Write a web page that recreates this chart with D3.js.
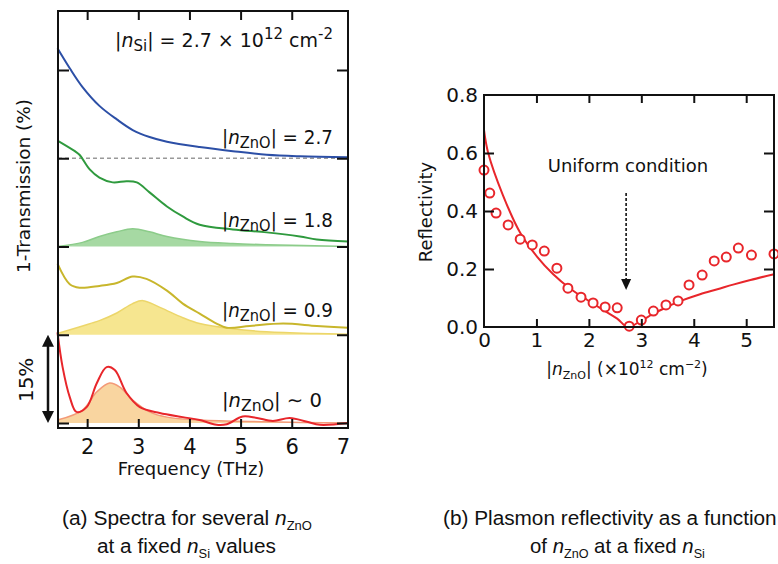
<!DOCTYPE html>
<html>
<head>
<meta charset="utf-8">
<script src="https://cdn.jsdelivr.net/npm/d3@7"></script>
<style>
  body { margin: 0; background: #fff; }
  svg { display: block; background: #fff; }
  text { font-family: "DejaVu Sans", sans-serif; fill: #111; }
  text.cap { font-family: "Liberation Sans", Arial, sans-serif; }
</style>
</head>
<body>
<svg width="778" height="564"></svg>
<script>
// (a) spectra, frequency in THz, 1-T in % above each trace's own baseline
const blueFreq = [1.42, 1.66, 1.91, 2.24, 2.58, 2.89, 3.22, 3.56, 4.20, 4.85, 5.51, 6.16, 7.10];
const blueVals = [18.7, 15.3, 12.1, 8.9, 6.6, 4.8, 3.6, 2.8, 1.9, 1.2, 0.6, 0.34, 0.17];

const greenFreq = [1.42, 1.76, 1.85, 2.05, 2.24, 2.50, 2.77, 2.97, 3.22, 3.56, 3.87, 4.20, 4.85, 5.51, 6.16, 6.49, 7.10];
const greenVals = [18.0, 16.2, 15.6, 13.1, 11.7, 10.9, 11.1, 10.9, 9.2, 6.8, 5.1, 3.7, 2.9, 2.4, 1.7, 1.2, 0.85];
const greenFillFreq = [1.42, 1.91, 2.24, 2.58, 2.89, 3.22, 3.56, 4.20, 4.85, 5.51, 7.10];
const greenFillVals = [0, 0.7, 1.7, 2.5, 3.0, 2.5, 1.7, 0.85, 0.5, 0.3, 0];

const yellowFreq = [1.42, 1.66, 1.85, 2.24, 2.58, 2.89, 3.16, 3.56, 3.87, 4.20, 4.53, 4.73, 5.18, 5.83, 6.49, 7.10];
const yellowVals = [12.1, 8.6, 8.0, 8.3, 8.8, 9.9, 9.5, 7.5, 5.3, 3.6, 1.9, 1.2, 1.5, 1.9, 1.5, 1.2];
const yellowFillFreq = [1.42, 1.91, 2.24, 2.58, 2.89, 3.09, 3.36, 3.56, 3.87, 4.20, 4.85, 5.51, 6.49, 7.10];
const yellowFillVals = [0.2, 1.5, 2.4, 3.7, 5.3, 5.8, 4.9, 4.1, 2.9, 1.9, 1.0, 0.5, 0.2, 0.1];

const redFreq = [1.42, 1.52, 1.66, 1.79, 1.99, 2.19, 2.38, 2.54, 2.77, 3.03, 3.42, 3.87, 4.20, 4.53, 4.73, 5.04, 5.32, 5.63, 5.96, 6.30, 6.55, 7.10];
const redVals = [15.4, 9.5, 4.4, 1.9, 2.7, 6.8, 9.5, 9.0, 5.1, 2.7, 1.7, 1.0, 0.5, -0.3, -0.2, 1.1, 0.85, 0.35, 0.85, 0.2, -0.3, 0];
const redFillFreq = [1.42, 1.91, 2.19, 2.44, 2.64, 2.89, 3.22, 3.56, 4.20, 5.51, 7.10];
const redFillVals = [0.5, 2.2, 5.3, 6.8, 6.1, 3.9, 1.9, 1.0, 0.5, 0.2, 0];

const freqTicks = [2, 3, 4, 5, 6, 7];
const baseTicks = [0, 15, 30, 45, 60];

// (b) reflectivity vs |n_ZnO| (x10^12 cm^-2)
const measN = [0.0, 0.11, 0.23, 0.46, 0.69, 0.92, 1.15, 1.39, 1.60, 1.85, 2.08, 2.31, 2.54, 2.77, 3.00, 3.23, 3.47, 3.70, 3.91, 4.16, 4.39, 4.62, 4.85, 5.10, 5.53];
const measR = [0.541, 0.462, 0.393, 0.352, 0.303, 0.283, 0.262, 0.203, 0.134, 0.103, 0.083, 0.069, 0.066, 0.003, 0.024, 0.055, 0.076, 0.090, 0.145, 0.179, 0.228, 0.241, 0.272, 0.248, 0.252];
const calcN = [0.0, 0.08, 0.36, 0.69, 1.01, 1.32, 1.64, 1.97, 2.27, 2.54, 2.74, 3.0, 3.23, 3.49, 3.74, 4.12, 4.45, 4.75, 5.08, 5.53];
const calcR = [0.68, 0.60, 0.455, 0.325, 0.243, 0.182, 0.133, 0.093, 0.059, 0.029, 0.0, 0.022, 0.046, 0.069, 0.089, 0.113, 0.130, 0.146, 0.162, 0.182];

const nTicks = [0, 1, 2, 3, 4, 5];
const reflTicks = [0, 0.2, 0.4, 0.6, 0.8];

let svg = d3.select('svg');

// tspans with italic / sub / sup pieces
function rich(t, parts, small, down, up) {
  let shift = 0;
  parts.forEach(function(p) {
    let s = t.append('tspan');
    let want = 0, txt = p;
    if (typeof p === 'object') {
      txt = p.t;
      if (p.it) s.style('font-style', 'italic');
      if (p.sub) { want = down; s.attr('font-size', small); }
      if (p.sup) { want = -up; s.attr('font-size', small); }
    }
    if (want !== shift) { s.attr('dy', want - shift); shift = want; }
    s.text(txt);
  });
  return t;
}

// text squeezed to span x0..x1
function fitted(parts, x0, x1, y, size, small, down, cls) {
  let t = svg.append('text').attr('font-size', size);
  if (cls) t.attr('class', cls);
  rich(t, parts, small, down, 0);
  let w = t.node().getComputedTextLength();
  t.attr('transform', 'translate(' + x0 + ',' + y + ') scale(' + ((x1 - x0) / w) + ',1)');
  return t;
}

// ---------- panel (a) ----------
let xL = d3.scaleLinear().domain([1.43, 7.1]).range([58, 348]);
let yL = d3.scaleLinear().domain([0, 60]).range([423, 70]);

let fills = [
  {freq: greenFillFreq, vals: greenFillVals, off: 30, fill: '#a6d9a3', edge: '#8ccc8a'},
  {freq: yellowFillFreq, vals: yellowFillVals, off: 15, fill: '#f6e690', edge: '#ecd66a'},
  {freq: redFillFreq, vals: redFillVals, off: 0, fill: '#f9d5a0', edge: '#f39a78'}
];
let traces = [
  {freq: blueFreq, vals: blueVals, off: 45, color: '#2c4fa6'},
  {freq: greenFreq, vals: greenVals, off: 30, color: '#2f9a3e'},
  {freq: yellowFreq, vals: yellowVals, off: 15, color: '#c8b62c'},
  {freq: redFreq, vals: redVals, off: 0, color: '#e8262b'}
];

fills.forEach(function(f) {
  let area = d3.area()
               .x(function(d, i) { return xL(f.freq[i]); })
               .y0(yL(f.off))
               .y1(function(d) { return yL(d + f.off); })
               .curve(d3.curveCatmullRom);
  let edge = d3.line()
               .x(function(d, i) { return xL(f.freq[i]); })
               .y(function(d) { return yL(d + f.off); })
               .curve(d3.curveCatmullRom);
  svg.append('path').attr('d', area(f.vals)).attr('fill', f.fill);
  svg.append('path').attr('d', edge(f.vals)).attr('fill', 'none')
     .attr('stroke', f.edge).attr('stroke-width', 1.5);
});

svg.append('line')
   .attr('x1', xL(1.43)).attr('x2', xL(7.1))
   .attr('y1', yL(45)).attr('y2', yL(45))
   .attr('stroke', '#999').attr('stroke-width', 1.5)
   .attr('stroke-dasharray', '4,3');

traces.forEach(function(s) {
  let line = d3.line()
               .x(function(d, i) { return xL(s.freq[i]); })
               .y(function(d) { return yL(d + s.off); })
               .curve(d3.curveCatmullRom);
  svg.append('path').attr('d', line(s.vals)).attr('fill', 'none')
     .attr('stroke', s.color).attr('stroke-width', 2);
});

// axes of (a)
let axB = svg.append('g').attr('transform', 'translate(0,428)')
  .call(d3.axisBottom(xL).tickValues(freqTicks).tickSize(-9).tickPadding(11).tickFormat(d3.format('d')));
axB.selectAll('.tick line').filter(function(d) { return d === 7; }).remove();
svg.append('g').attr('transform', 'translate(0,11)')
  .call(d3.axisTop(xL).tickValues(freqTicks.slice(0, 5)).tickSize(-9).tickFormat(''));
svg.append('g').attr('transform', 'translate(58,0)')
  .call(d3.axisLeft(yL).tickValues(baseTicks).tickSize(-11).tickFormat(''));
svg.append('g').attr('transform', 'translate(348,0)')
  .call(d3.axisRight(yL).tickValues(baseTicks).tickSize(-11).tickFormat(''));

svg.append('rect').attr('x', 58).attr('y', 11).attr('width', 290).attr('height', 417)
   .attr('fill', 'none').attr('stroke', '#111').attr('stroke-width', 2);

// 15% scale arrow
let arrowX = 48;
svg.append('line').attr('x1', arrowX).attr('x2', arrowX)
   .attr('y1', yL(15) + 8).attr('y2', yL(0) - 8)
   .attr('stroke', '#111').attr('stroke-width', 2.5);
svg.append('path')
   .attr('d', 'M' + arrowX + ',' + yL(15) + 'l-6,12h12z' +
              'M' + arrowX + ',' + yL(0) + 'l-6,-12h12z')
   .attr('fill', '#111');
svg.append('text').attr('transform', 'translate(33,' + (yL(7.5) + 1) + ') rotate(-90)')
   .attr('text-anchor', 'middle').attr('font-size', 20).text('15%');

svg.append('text').attr('transform', 'translate(30,186) rotate(-90)')
   .attr('text-anchor', 'middle').attr('font-size', 18.5).text('1-Transmission (%)');
svg.append('text').attr('x', 191).attr('y', 475)
   .attr('text-anchor', 'middle').attr('font-size', 18).text('Frequency (THz)');

rich(svg.append('text').attr('x', 115).attr('y', 47).attr('font-size', 19),
     ['|', {t: 'n', it: 1}, {t: 'Si', sub: 1}, '| = 2.7 × 10', {t: '12', sup: 1}, ' cm', {t: '-2', sup: 1}], 15, 4, 8);

let zLabels = ['| = 2.7', '| = 1.8', '| = 0.9', '| ∼ 0'];
let zBase = [144, 227, 317, 407];
let zEnd = [333, 333, 333, 322];
zLabels.forEach(function(s, i) {
  fitted(['|', {t: 'n', it: 1}, {t: 'ZnO', sub: 1}, s], 222, zEnd[i], zBase[i], 20, 16, 4);
});

// ---------- panel (b) ----------
let xR = d3.scaleLinear().domain([0, 5.53]).range([484, 774]);
let yR = d3.scaleLinear().domain([0, 0.8]).range([327, 95]);

let fit = d3.line()
            .x(function(d, i) { return xR(calcN[i]); })
            .y(function(d) { return yR(d); })
            .curve(d3.curveCatmullRom);
svg.append('path').attr('d', fit(calcR)).attr('fill', 'none')
   .attr('stroke', '#e8262b').attr('stroke-width', 2);

svg.selectAll('.meas').data(measR).enter().append('circle')
   .attr('cx', function(d, i) { return xR(measN[i]); })
   .attr('cy', function(d) { return yR(d); })
   .attr('r', 4.5)
   .attr('fill', '#fff').attr('stroke', '#e8262b').attr('stroke-width', 2);

let rB = svg.append('g').attr('transform', 'translate(0,327)')
  .call(d3.axisBottom(xR).tickValues(nTicks).tickSize(-8).tickPadding(6).tickFormat(d3.format('d')));
rB.selectAll('.tick line').filter(function(d) { return d === 0; }).remove();
svg.append('g').attr('transform', 'translate(0,95)')
  .call(d3.axisTop(xR).tickValues(nTicks.slice(1)).tickSize(-8).tickFormat(''));
let rL = svg.append('g').attr('transform', 'translate(484,0)')
  .call(d3.axisLeft(yR).tickValues(reflTicks).tickSize(-10).tickPadding(6).tickFormat(d3.format('.1f')));
rL.selectAll('.tick line').filter(function(d) { return d === 0 || d === 0.8; }).remove();
svg.append('g').attr('transform', 'translate(774,0)')
  .call(d3.axisRight(yR).tickValues(reflTicks.slice(1, 4)).tickSize(-10).tickFormat(''));

svg.append('path')
   .attr('d', 'M' + xR(0) + ',' + yR(0.8) + 'H' + xR(5.53) + 'V' + yR(0) + 'H' + xR(0) + 'Z')
   .attr('fill', 'none').attr('stroke', '#111').attr('stroke-width', 2);

// uniform condition arrow
svg.append('line').attr('x1', xR(2.71)).attr('x2', xR(2.71))
   .attr('y1', yR(0.462)).attr('y2', yR(0.16))
   .attr('stroke', '#111').attr('stroke-width', 1.6).attr('stroke-dasharray', '3,2');
svg.append('path')
   .attr('d', 'M' + xR(2.71) + ',' + yR(0.128) + 'l-5,-11h10z')
   .attr('fill', '#111');
svg.append('text').attr('x', 628).attr('y', 172)
   .attr('text-anchor', 'middle').attr('font-size', 18).text('Uniform condition');

svg.append('text').attr('transform', 'translate(432,212) rotate(-90)')
   .attr('text-anchor', 'middle').attr('font-size', 18).text('Reflectivity');
rich(svg.append('text').attr('x', 627).attr('y', 375).attr('text-anchor', 'middle').attr('font-size', 17),
     ['|', {t: 'n', it: 1}, {t: 'ZnO', sub: 1}, '| (×10', {t: '12', sup: 1}, ' cm', {t: '−2', sup: 1}, ')'], 11, 4, 7);

// axis text styling
svg.selectAll('.tick text').attr('fill', '#111');
axB.attr('font-size', 21).attr('font-family', 'DejaVu Sans');
rB.attr('font-size', 20).attr('font-family', 'DejaVu Sans');
rL.attr('font-size', 20).attr('font-family', 'DejaVu Sans');
svg.selectAll('.domain').remove();
svg.selectAll('.tick line').attr('stroke', '#111').attr('stroke-width', 2);

// ---------- captions ----------
function caption(parts, x0, x1, y) {
  fitted(parts, x0, x1, y, 21, 13, 5, 'cap');
}
caption(['(a) Spectra for several ', {t: 'n', it: 1}, {t: 'ZnO', sub: 1}], 62, 312, 525);
caption(['at a fixed ', {t: 'n', it: 1}, {t: 'Si', sub: 1}, ' values'], 97, 276, 553);
caption(['(b) Plasmon reflectivity as a function'], 443, 777, 525);
caption(['of ', {t: 'n', it: 1}, {t: 'ZnO', sub: 1}, ' at a fixed ', {t: 'n', it: 1}, {t: 'Si', sub: 1}], 530, 705, 553);
</script>
</body>
</html>
